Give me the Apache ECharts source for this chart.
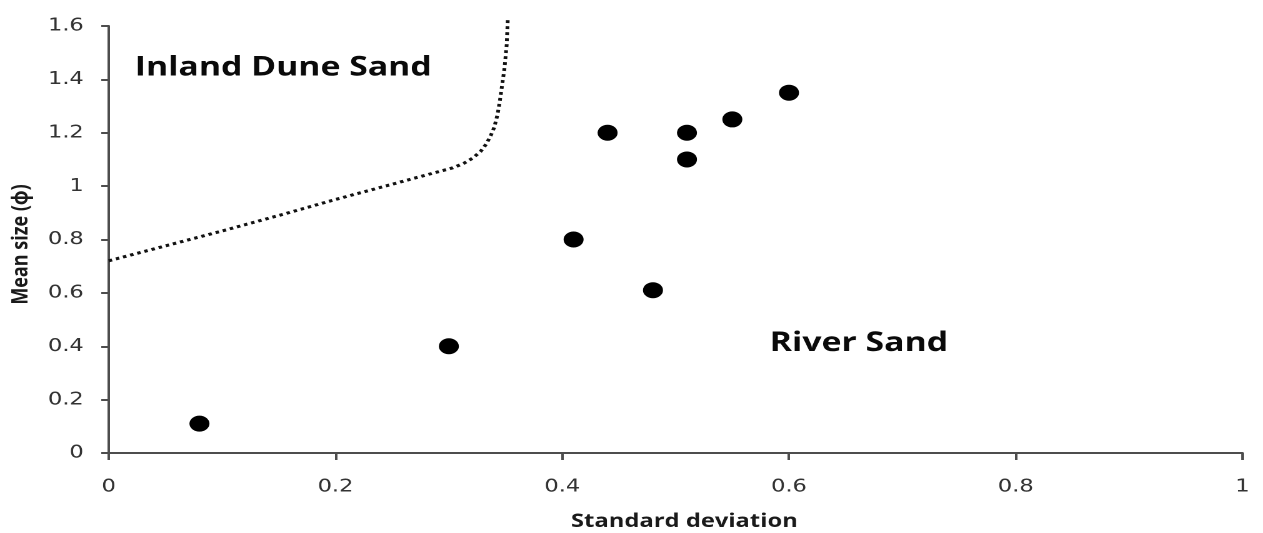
<!DOCTYPE html>
<html>
<head>
<meta charset="utf-8">
<script src="https://cdn.jsdelivr.net/npm/echarts@6/dist/echarts.min.js"></script>
<style>
  html, body {
    margin: 0; padding: 0; background: #fff;
    width: 1263px; height: 533px; overflow: hidden;
  }
  /* the figure is laid out narrower and widened to the final 1263px frame */
  #chart {
    position: absolute;
    left: 0; top: 0;
    width: 1010px;
    height: 533px;
    transform: scaleX(1.25);
    transform-origin: 0 0;
  }
</style>
</head>
<body>
<div id="chart"></div>
<script>
// Sample grain-size statistics: sorting (standard deviation) vs. mean size (phi)
const sampleStdDev = [0.08, 0.30, 0.41, 0.48, 0.44, 0.51, 0.51, 0.55, 0.60];
const sampleMean   = [0.11, 0.40, 0.80, 0.61, 1.20, 1.20, 1.10, 1.25, 1.35];

// Boundary between inland dune sand and river sand fields
const boundaryStdDev = [0.000, 0.050, 0.100, 0.150, 0.200, 0.250, 0.274, 0.290, 0.303, 0.313, 0.321,
                        0.328, 0.333, 0.337, 0.340, 0.343, 0.345, 0.347, 0.349, 0.351, 0.352];
const boundaryMean   = [0.720, 0.776, 0.832, 0.890, 0.950, 1.007, 1.035, 1.053, 1.068, 1.085, 1.105,
                        1.130, 1.158, 1.190, 1.220, 1.270, 1.320, 1.380, 1.440, 1.530, 1.630];

const xTicks = [0, 0.2, 0.4, 0.6, 0.8, 1];
const yTicks = [0, 0.2, 0.4, 0.6, 0.8, 1, 1.2, 1.4, 1.6];

const fieldLabels = [
  { text: 'Inland Dune Sand', x: 0.023, y: 1.443 },
  { text: 'River Sand', x: 0.583, y: 0.411 }
];

const samples = sampleStdDev.map((x, i) => [x, sampleMean[i]]);
const boundary = boundaryStdDev.map((x, i) => [x, boundaryMean[i]]);

const axisColor = '#4d4d4d';
const labelColor = '#333';
const tickFont = 'DejaVu Sans, Verdana, sans-serif';
const titleFont = 'Open Sans, Noto Sans, sans-serif';

const chart = echarts.init(document.getElementById('chart'), null, { devicePixelRatio: 2 });

chart.setOption({
  animation: false,
  backgroundColor: '#fff',
  grid: {
    left: 87, right: 16, top: 26, bottom: 80,
    containLabel: false,
    outerBoundsMode: 'none'
  },
  xAxis: {
    type: 'value',
    min: xTicks[0],
    max: xTicks[xTicks.length - 1],
    interval: 0.2,
    name: 'Standard deviation',
    nameLocation: 'middle',
    nameGap: 59,
    nameTextStyle: {
      fontFamily: titleFont, fontWeight: 'bold', fontSize: 19, color: '#1a1a1a',
      padding: [0, 0, 0, 14]
    },
    axisLine: { show: true, lineStyle: { color: axisColor, width: 2 } },
    axisTick: { show: true, inside: false, length: 7, lineStyle: { color: axisColor, width: 2 } },
    axisLabel: { margin: 25, fontFamily: tickFont, fontSize: 18, color: labelColor },
    splitLine: { show: false }
  },
  yAxis: {
    type: 'value',
    min: yTicks[0],
    max: yTicks[yTicks.length - 1],
    interval: 0.2,
    name: 'Mean size (\u03d5)',
    nameLocation: 'middle',
    nameRotate: 90,
    nameGap: 61,
    nameTextStyle: {
      fontFamily: titleFont, fontWeight: 'bold', fontSize: 18, color: '#1a1a1a',
      padding: [0, 10, 0, 0]
    },
    axisLine: { show: true, lineStyle: { color: axisColor, width: 2 } },
    axisTick: { show: true, inside: false, length: 6, lineStyle: { color: axisColor, width: 2 } },
    axisLabel: { margin: 20, fontFamily: tickFont, fontSize: 18, color: labelColor },
    splitLine: { show: false }
  },
  series: [
    {
      type: 'line',
      data: boundary,
      clip: false,
      smooth: false,
      showSymbol: false,
      symbol: 'none',
      lineStyle: { color: '#111', width: 3, type: [2.8, 3.2], cap: 'butt', join: 'round' },
      silent: true,
      z: 2
    },
    {
      type: 'scatter',
      data: samples,
      symbol: 'circle',
      symbolSize: 16,
      itemStyle: { color: '#000', opacity: 1 },
      z: 3
    },
    {
      type: 'scatter',
      data: fieldLabels.map(f => ({ value: [f.x, f.y], name: f.text })),
      symbolSize: 0,
      silent: true,
      itemStyle: { opacity: 1 },
      label: {
        show: true,
        position: 'right',
        distance: 0,
        formatter: p => p.name,
        fontFamily: titleFont,
        fontWeight: 'bold',
        fontSize: 27,
        color: '#0a0a0a'
      },
      z: 4
    }
  ]
});
</script>
</body>
</html>
